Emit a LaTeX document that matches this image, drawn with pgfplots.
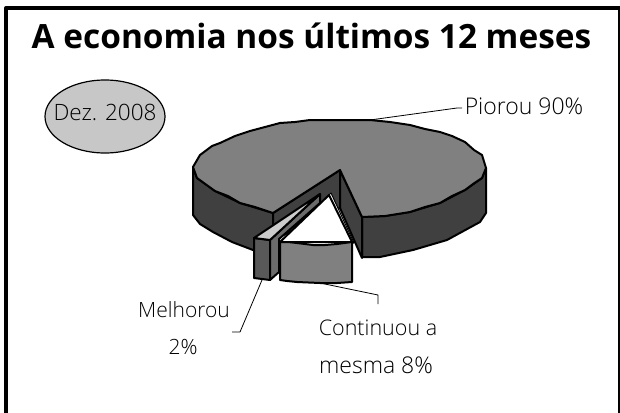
\documentclass[border=0pt]{standalone}
\usepackage{pgfplots}
\usepackage{fontspec}
\setmainfont{Open Sans Light}
\newfontfamily\titlefont{Open Sans}
\pgfplotsset{compat=1.18}
\begin{document}
\begin{tikzpicture}
\begin{axis}[
  scale only axis, width=620pt, height=412pt,
  xmin=0, xmax=620, ymin=0, ymax=412, y dir=reverse,
  hide axis, clip=true,
  every axis plot/.append style={draw=black, line width=2pt, line join=round, mark=none}
]
% frame (open at the foot)
\addplot[line width=4pt, line cap=butt] coordinates {(6,420) (6,8) (620,8) (620,420)};
% left side wall
\addplot[fill=black!75] coordinates {(193,167) (193,215) (200,224) (213,232) (232,242) (253,250) (273,256) (273,213) (240,203) (215,191) (197,178)} -- cycle;
% right side wall
\addplot[fill=black!75] coordinates {(362,217) (362,257) (380,257) (413,250) (447,240) (480,222) (486,213) (486,168) (482,178) (465,190) (440,203) (410,212) (385,216)} -- cycle;
% notch walls
\addplot[fill=black!75] coordinates {(340,170) (273,213) (273,240) (340,208)} -- cycle;
\addplot[fill=black!75] coordinates {(340,170) (362,217) (362,258) (340,208)} -- cycle;
% large top
\addplot[fill=black!50] coordinates {(340,170) (362,217) (385,216) (410,212) (425,207) (440,203) (452,196) (465,190) (473,184) (482,178) (486,168) (482,155) (474,150) (465,142) (452,136) (440,132) (425,129) (410,125) (390,122) (370,120) (340,120) (310,120) (295,122) (280,123) (265,127) (250,131) (235,136) (220,143) (212,146) (200,155) (193,167) (197,178) (215,191) (228,196) (240,203) (255,207) (273,213)} -- cycle;
% thin sliver beside the white slice
\addplot[fill=white, line width=1pt] coordinates {(331,193) (354,243) (351,243) (329,195)} -- cycle;
% Melhorou slice
\addplot[fill=black!65] coordinates {(254,238) (270,240) (270,280) (254,278)} -- cycle;
\addplot[fill=black!58] coordinates {(270,240) (320,194) (320,203) (279,239) (279,272) (270,280)} -- cycle;
\addplot[fill=black!20] coordinates {(254,238) (320,194) (270,240)} -- cycle;
% Continuou slice
\addplot[fill=white] coordinates {(329,195) (352,242) (280,242)} -- cycle;
\addplot[fill=black!50] coordinates {(280,242) (288,242) (297,243) (313,245) (325,245) (337,244) (352,242) (352,282) (337,283) (320,283) (297,282) (287,281) (280,280)} -- cycle;
% leaders
\addplot[line width=.8pt] coordinates {(370,120) (457,108) (462,108)};
\addplot[line width=.8pt] coordinates {(262,280) (240,332) (232,332)};
\addplot[line width=.8pt] coordinates {(320,283) (378,295) (378,304)};
% date ellipse
\draw[fill=black!22, line width=1.2pt] (axis cs:105,116.5) ellipse [x radius=60, y radius=36.5];
\node[font=\titlefont\bfseries\fontsize{33.4}{33.4}\selectfont] at (axis cs:311.5,36) {A economia nos últimos 12 meses};
\node[font=\fontsize{22.5}{22.5}\selectfont] at (axis cs:105,112) {Dez. 2008};
\node[font=\fontsize{23}{23}\selectfont] at (axis cs:524,106) {Piorou 90\%};
\node[font=\fontsize{21}{21}\selectfont] at (axis cs:184,310) {Melhorou};
\node[font=\fontsize{21}{21}\selectfont] at (axis cs:183,347) {2\%};
\node[font=\fontsize{21.5}{21.5}\selectfont] at (axis cs:378,328) {Continuou a};
\node[font=\fontsize{23}{23}\selectfont] at (axis cs:376,365) {mesma 8\%};
\end{axis}
\pgfresetboundingbox
\path[use as bounding box] (0,0) rectangle (620pt,412pt);
\end{tikzpicture}
\end{document}
